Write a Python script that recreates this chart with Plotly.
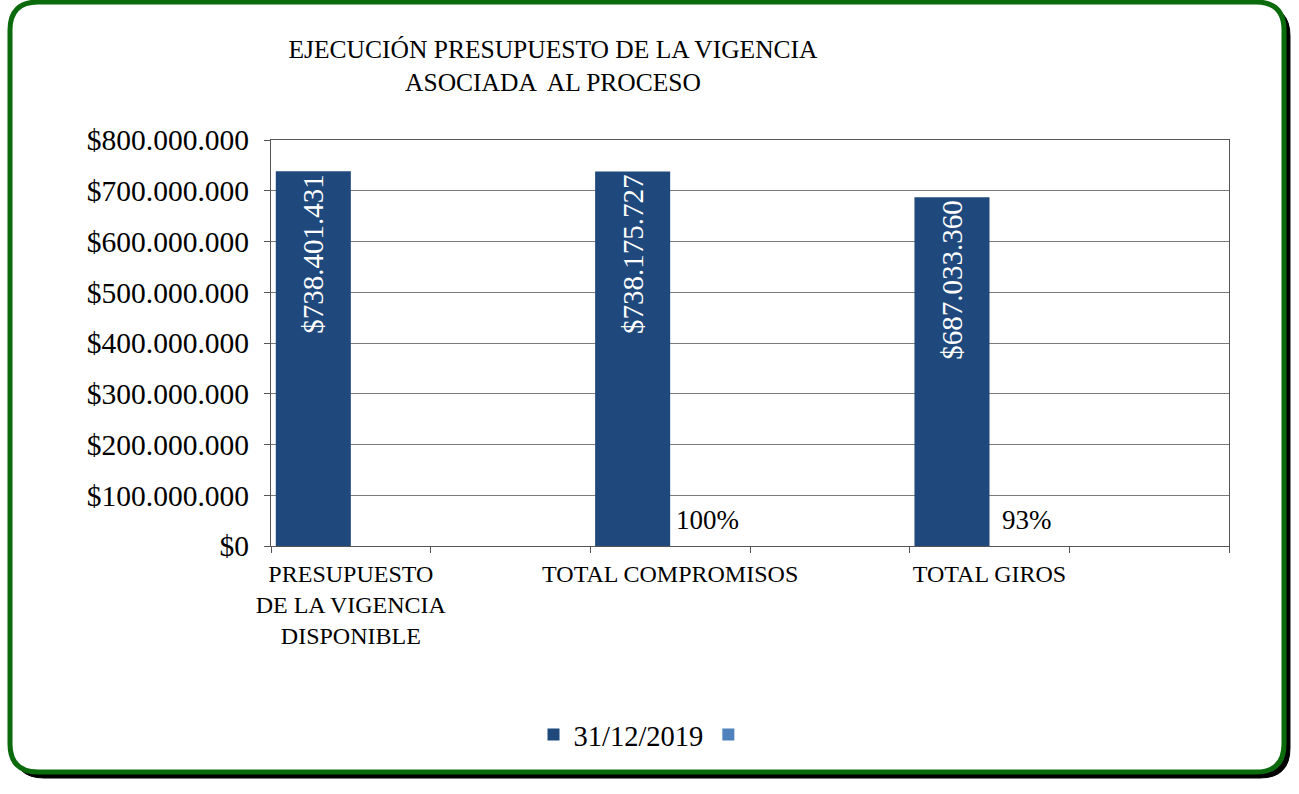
import plotly.graph_objects as go

# ---- data ----
categories = ["PRESUPUESTO<br>DE LA VIGENCIA<br>DISPONIBLE", " ", "TOTAL COMPROMISOS", "  ", "TOTAL GIROS", "   "]
valores_2019 = [738401431, None, 738175727, None, 687033360, None]
porcentajes = [None, None, 1.00, None, 0.93, None]
pct_labels = ["", "", "100%", "", "93%", ""]
y_tickvals = [0, 100000000, 200000000, 300000000, 400000000, 500000000, 600000000, 700000000, 800000000]
serie1_name = "31/12/2019"
serie2_name = " "
title_text = "EJECUCIÓN PRESUPUESTO DE LA VIGENCIA<br>ASOCIADA  AL PROCESO"

W, H = 1299, 794
L, R, T, B = 271, 1229, 140, 546
FONT = "Liberation Serif"

def fmt_money(v):
    return "$" + f"{v:,.0f}".replace(",", ".")

y_ticktext = [fmt_money(v) for v in y_tickvals]

def xp(px):
    return (px - L) / (R - L)

def yp(py):
    return (B - py) / (B - T)

def rounded_path(x0, y0, x1, y1, r):
    pts = [
        ("M", [(x0 + r, y0)]), ("L", [(x1 - r, y0)]), ("Q", [(x1, y0), (x1, y0 + r)]),
        ("L", [(x1, y1 - r)]), ("Q", [(x1, y1), (x1 - r, y1)]),
        ("L", [(x0 + r, y1)]), ("Q", [(x0, y1), (x0, y1 - r)]),
        ("L", [(x0, y0 + r)]), ("Q", [(x0, y0), (x0 + r, y0)]),
    ]
    s = ""
    for cmd, ps in pts:
        s += cmd + " " + " ".join(f"{xp(a):.5f},{yp(b):.5f}" for a, b in ps) + " "
    return s + "Z"

fig = go.Figure()
fig.add_trace(go.Bar(
    x=categories, y=valores_2019, name=serie1_name,
    marker=dict(color="#1F497D", line=dict(width=0)),
    text=[fmt_money(v) if v is not None else "" for v in valores_2019],
    textposition="inside", insidetextanchor="end",
    textangle=-90, textfont=dict(color="white", size=29, family=FONT),
    hoverinfo="skip",
))
fig.add_trace(go.Bar(
    x=categories, y=porcentajes, name=serie2_name,
    marker=dict(color="#4F81BD", line=dict(width=0)),
    hoverinfo="skip",
))

for c, v, lab in zip(categories, porcentajes, pct_labels):
    if v is not None and lab:
        fig.add_annotation(x=c, y=v, text=lab, showarrow=False, xref="x", yref="y",
                           xanchor="center", yanchor="bottom", xshift=37, yshift=9,
                           font=dict(size=27, family=FONT, color="black"))

fig.update_layout(
    width=W, height=H,
    margin=dict(l=L, r=W - R, t=T, b=H - B, autoexpand=False),
    paper_bgcolor="white", plot_bgcolor="white",
    barmode="group", bargap=0.06, bargroupgap=0,
    font=dict(family=FONT, color="black"),
    title=dict(text=title_text, xref="container", x=553 / W, xanchor="center",
               yref="container", y=1 - 58 / H, yanchor="middle",
               font=dict(size=25.5, family=FONT, color="black")),
    showlegend=True,
    legend=dict(orientation="h", x=xp(647), xanchor="center", y=yp(735), yanchor="middle",
                font=dict(size=28.5, family=FONT, color="black"), traceorder="normal",
                itemwidth=30),
    xaxis=dict(type="category", tickson="boundaries", ticks="outside", ticklen=6,
               tickangle=0, ticklabelstandoff=6,
               tickcolor="#555555", showgrid=False, showline=True, linecolor="#555555",
               linewidth=1, mirror=True, tickfont=dict(size=24, family=FONT, color="black"),
               fixedrange=True),
    yaxis=dict(range=[0, 800000000], tickmode="array", tickvals=y_tickvals, ticktext=y_ticktext,
               ticks="outside", ticklen=6,
               tickcolor="#555555", showgrid=True, gridcolor="#7a7a7a", gridwidth=1,
               showline=True, linecolor="#555555", mirror=True, zeroline=False,
               ticklabelstandoff=9,
               tickfont=dict(size=29.5, family=FONT, color="black"), fixedrange=True),
)

# border with shadow (shadow filled black, frame filled white on top)
fig.add_shape(type="path", xref="paper", yref="paper",
              path=rounded_path(14, 6, 1290, 778, 30),
              line=dict(color="black", width=1), fillcolor="black", layer="below")
fig.add_shape(type="path", xref="paper", yref="paper",
              path=rounded_path(10, 2, 1284, 772, 28),
              line=dict(color="#0B6A0B", width=5), fillcolor="white", layer="below")

fig.write_html("out.html", config={"displayModeBar": False},
               post_script="document.body.style.margin='0';document.body.style.overflow='hidden';")
